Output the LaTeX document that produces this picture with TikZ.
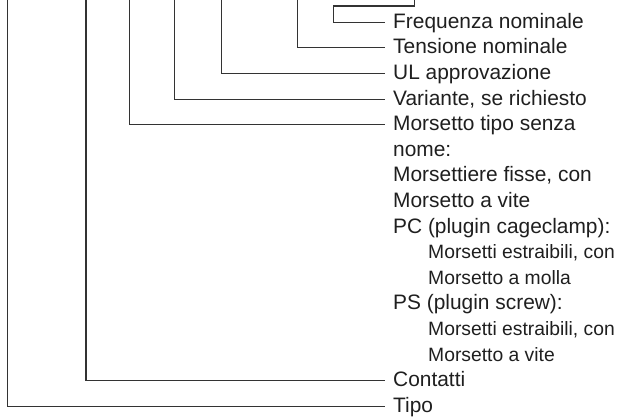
\documentclass[tikz,border=0pt]{standalone}
\usepackage{fontspec}
\setmainfont{Liberation Sans}
\begin{document}
\begin{tikzpicture}[x=1pt,y=-1pt,
  conn/.style={draw=black!80,line width=1.1pt},
  lbl/.style={anchor=west,inner xsep=8pt,inner ysep=0pt,text height=15pt,text depth=3pt,
    font=\fontsize{20.9}{25}\selectfont,text=black!88},
  sublbl/.style={lbl,font=\fontsize{19.3}{24}\selectfont}]
\useasboundingbox (0,0) rectangle (617,417);
% row positions: y_i = 22.3 + 25.6 i
\node[lbl] (freq) at (385,22.3) {Frequenza nominale};
\node[lbl] (tens) at (385,47.9) {Tensione nominale};
\node[lbl] (ul)   at (385,73.5) {UL approvazione};
\node[lbl] (var)  at (385,99.1) {Variante, se richiesto};
\node[lbl] (mors) at (385,124.7) {Morsetto tipo senza};
\node[lbl] (r5)   at (385,150.3) {nome:};
\node[lbl] (r6)   at (385,175.9) {Morsettiere fisse, con};
\node[lbl] (r7)   at (385,201.5) {Morsetto a vite};
\node[lbl] (r8)   at (385,227.1) {PC (plugin cageclamp):};
\node[sublbl] (r9)  at (420,252.7) {Morsetti estraibili, con};
\node[sublbl] (r10) at (420,278.3) {Morsetto a molla};
\node[lbl] (r11)  at (385,303.9) {PS (plugin screw):};
\node[sublbl] (r12) at (420,329.5) {Morsetti estraibili, con};
\node[sublbl] (r13) at (420,355.1) {Morsetto a vite};
\node[lbl] (cont) at (385,380.7) {Contatti};
\node[lbl] (tipo) at (385,406.3) {Tipo};
% free ends at the top
\coordinate (tF) at (414.7,0);
\coordinate (kF) at (333.3,6);
\coordinate (tT) at (297.7,0);
\coordinate (tU) at (221.7,0);
\coordinate (tV) at (174.3,0);
\coordinate (tM) at (129.3,0);
\coordinate (tC) at (86,0);
\coordinate (tP) at (7.3,0);
% connectors
\draw[conn] (tF) |- (kF) |- (freq.west);
\draw[conn] (tT) |- (tens.west);
\draw[conn] (tU) |- (ul.west);
\draw[conn] (tV) |- (var.west);
\draw[conn] (tM) |- (mors.west);
\draw[conn] (tC) |- (cont.west);
\draw[conn] (tP) |- (tipo.west);
\end{tikzpicture}
\end{document}
